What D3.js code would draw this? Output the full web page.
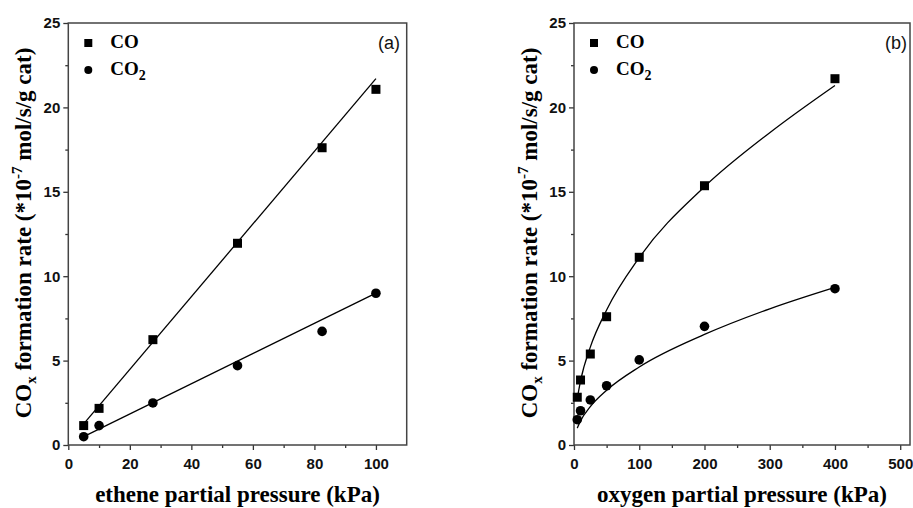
<!DOCTYPE html>
<html>
<head>
<meta charset="utf-8">
<script src="https://cdn.jsdelivr.net/npm/d3@7/dist/d3.min.js"></script>
<style>
  html, body { margin: 0; padding: 0; background: #fff; }
  svg { display: block; }
  .serif { font-family: "Liberation Serif", Tinos, "Times New Roman", Times, "Nimbus Roman", "DejaVu Serif", serif; }
  .sans { font-family: "Liberation Sans", Arimo, Arial, Helvetica, sans-serif; }
</style>
</head>
<body>
<svg id="chart" width="913" height="508"></svg>
<script>
// ---------- DATA ----------
// Panel (a): ethene partial pressure
const etheneP = [5, 10, 27.5, 55, 82.5, 100];
const etheneCO = [1.15, 2.17, 6.24, 11.95, 17.61, 21.07];
const etheneCO2 = [0.49, 1.15, 2.49, 4.70, 6.73, 8.99];
// fitted straight lines (end points)
const etheneFitX = [5, 100];
const etheneFitCO = [1.25, 21.7];
const etheneFitCO2 = [0.5, 9.0];

// Panel (b): oxygen partial pressure
const oxygenP = [5, 10, 25, 50, 100, 200, 400];
const oxygenCO = [2.83, 3.85, 5.39, 7.6, 11.12, 15.36, 21.7];
const oxygenCO2 = [1.50, 2.03, 2.67, 3.51, 5.04, 7.03, 9.26];
// fitted curves
const oxygenFitX = [5, 10, 25, 50, 100, 200, 300, 400];
const oxygenFitCO = [2.75, 3.8, 5.8, 8.0, 11.1, 15.3, 18.5, 21.3];
const oxygenFitCO2 = [1.0, 1.43, 2.27, 3.24, 4.62, 6.55, 8.07, 9.34];

// ticks
const yMajor = [0, 5, 10, 15, 20, 25];
const yMinor = [2.5, 7.5, 12.5, 17.5, 22.5];
const xMajorA = [0, 20, 40, 60, 80, 100];
const xMinorA = [10, 30, 50, 70, 90];
const xMajorB = [0, 100, 200, 300, 400, 500];
const xMinorB = [50, 150, 250, 350, 450];

const legendLabels = ["CO", "CO2"];

// ---------- DRAW ----------
const svg = d3.select("#chart");

function panel(cfg) {
  const x = d3.scaleLinear().domain(cfg.xDomain).range([cfg.left, cfg.right]);
  const y = d3.scaleLinear().domain([0, 25]).range([cfg.bottom, cfg.top]);
  const g = svg.append("g");

  // axes
  const xAx = g.append("g").attr("transform", `translate(0,${cfg.bottom})`)
    .call(d3.axisBottom(x).tickValues(cfg.xMajor).tickSize(5).tickPadding(8).tickFormat(d3.format("d")));
  const xAxm = g.append("g").attr("transform", `translate(0,${cfg.bottom})`)
    .call(d3.axisBottom(x).tickValues(cfg.xMinor).tickSize(3).tickFormat(""));
  const yAx = g.append("g").attr("transform", `translate(${cfg.left},0)`)
    .call(d3.axisLeft(y).tickValues(yMajor).tickSize(5).tickPadding(3).tickFormat(d3.format("d")));
  const yAxm = g.append("g").attr("transform", `translate(${cfg.left},0)`)
    .call(d3.axisLeft(y).tickValues(yMinor).tickSize(3).tickFormat(""));
  [xAx, xAxm, yAx, yAxm].forEach(a => {
    a.attr("font-family", null).attr("font-size", null);
    a.select(".domain").remove();
    a.selectAll("line").attr("stroke", "#333").attr("stroke-width", 1.3);
    a.selectAll("text").attr("class", "sans").attr("font-weight", "bold")
      .attr("font-size", 15).attr("fill", "#111");
  });

  // frame
  g.append("rect").attr("x", cfg.left).attr("y", cfg.top)
    .attr("width", cfg.right - cfg.left).attr("height", cfg.bottom - cfg.top)
    .attr("fill", "none").attr("stroke", "#444").attr("stroke-width", 1.5);

  // fit lines
  const line = d3.line().x(d => x(d[0])).y(d => y(d[1])).curve(d3.curveMonotoneX);
  [cfg.fitCO, cfg.fitCO2].forEach(fy => {
    g.append("path").datum(cfg.fitX.map((v, i) => [v, fy[i]]))
      .attr("d", line).attr("fill", "none").attr("stroke", "#000").attr("stroke-width", 1.3);
  });

  // markers
  const sq = 9;
  g.selectAll(".sq").data(cfg.xs.map((v, i) => [v, cfg.co[i]])).enter().append("rect")
    .attr("x", d => x(d[0]) - sq / 2).attr("y", d => y(d[1]) - sq / 2)
    .attr("width", sq).attr("height", sq).attr("fill", "#000");
  g.selectAll(".ci").data(cfg.xs.map((v, i) => [v, cfg.co2[i]])).enter().append("circle")
    .attr("cx", d => x(d[0])).attr("cy", d => y(d[1])).attr("r", 4.8).attr("fill", "#000");

  // legend
  const lx = cfg.left + 20, tx = cfg.left + 42;
  g.append("rect").attr("x", lx - 4).attr("y", 43 - 4).attr("width", 8).attr("height", 8).attr("fill", "#000");
  g.append("circle").attr("cx", lx).attr("cy", 70).attr("r", 4).attr("fill", "#000");
  g.append("text").attr("x", tx).attr("y", 48).attr("class", "serif").attr("font-weight", "bold")
    .attr("font-size", 19).text(legendLabels[0]);
  const t2 = g.append("text").attr("x", tx).attr("y", 75).attr("class", "serif").attr("font-weight", "bold")
    .attr("font-size", 19);
  t2.append("tspan").text(legendLabels[1].slice(0, 2));
  t2.append("tspan").attr("dy", 5).attr("font-size", 14).text(legendLabels[1].slice(2));

  // panel label
  g.append("text").attr("x", cfg.labelX).attr("y", 48.5).attr("text-anchor", "end")
    .attr("class", "sans").attr("font-size", 18).attr("fill", "#111").text(cfg.label);

  // x title
  g.append("text").attr("x", (cfg.left + cfg.right) / 2).attr("y", 502).attr("text-anchor", "middle")
    .attr("class", "serif").attr("font-weight", "bold").attr("font-size", 23).text(cfg.xTitle);

  // y title
  const yt = g.append("text").attr("transform", `translate(${cfg.yTitleX},233) rotate(-90)`)
    .attr("text-anchor", "middle").attr("class", "serif").attr("font-weight", "bold").attr("font-size", 23);
  yt.append("tspan").text("CO");
  yt.append("tspan").attr("dy", 5).attr("font-size", 15).text("x");
  yt.append("tspan").attr("dy", -5).text(" formation rate (*10");
  yt.append("tspan").attr("dy", -9).attr("font-size", 15).text("-7");
  yt.append("tspan").attr("dy", 9).text(" mol/s/g cat)");
}

panel({
  left: 68.3, right: 406.7, top: 23, bottom: 445,
  xDomain: [0, 110], xMajor: xMajorA, xMinor: xMinorA,
  xs: etheneP, co: etheneCO, co2: etheneCO2,
  fitX: etheneFitX, fitCO: etheneFitCO, fitCO2: etheneFitCO2,
  label: "(a)", labelX: 400, xTitle: "ethene partial pressure (kPa)", yTitleX: 31
});
panel({
  left: 574, right: 910, top: 23, bottom: 445,
  xDomain: [0, 515], xMajor: xMajorB, xMinor: xMinorB,
  xs: oxygenP, co: oxygenCO, co2: oxygenCO2,
  fitX: oxygenFitX, fitCO: oxygenFitCO, fitCO2: oxygenFitCO2,
  label: "(b)", labelX: 907, xTitle: "oxygen partial pressure (kPa)", yTitleX: 537
});
</script>
</body>
</html>
